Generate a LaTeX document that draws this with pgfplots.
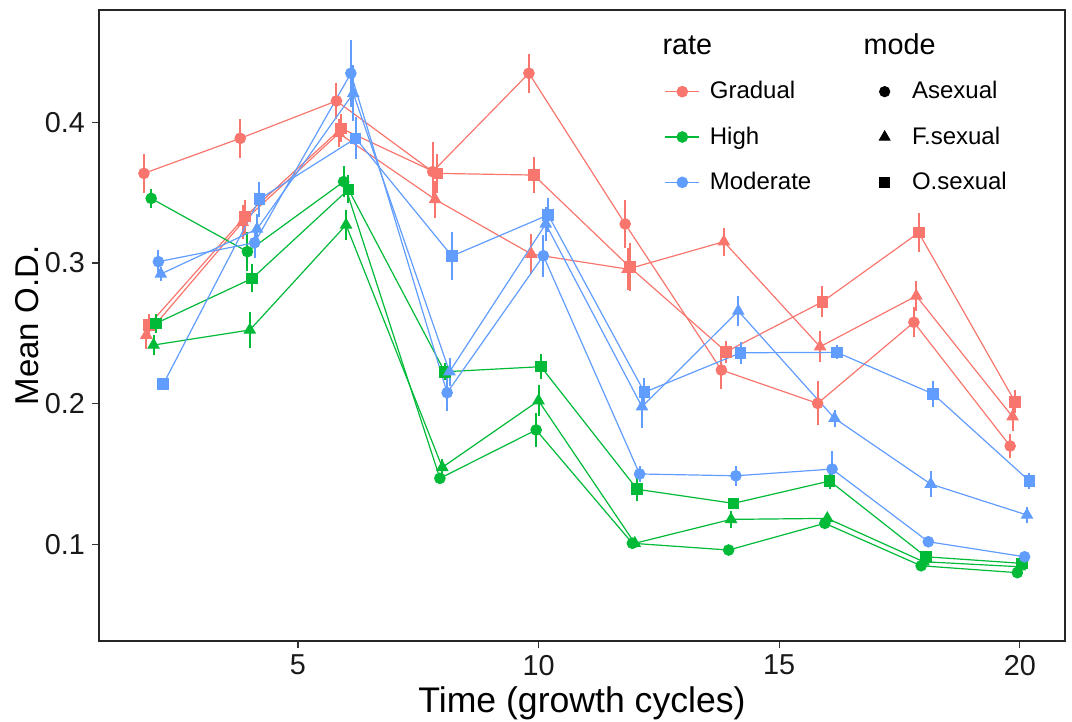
\documentclass[border=0pt]{standalone}
\usepackage{fontspec}
\setmainfont{Liberation Sans}
\usepackage{pgfplots}
\pgfplotsset{compat=1.18}
\usepackage{pgfplotstable}

\definecolor{cGrad}{HTML}{F8766D}
\definecolor{cHigh}{HTML}{00BA38}
\definecolor{cMod}{HTML}{619CFF}

% columns: dodged time, mean O.D., standard error
\pgfplotstableread{
x y e
1.8 0.3637 0.014
3.8 0.3886 0.014
5.8 0.4152 0.013
7.8 0.3649 0.021
9.8 0.4349 0.014
11.8 0.3277 0.017
13.8 0.2238 0.0135
15.8 0.2001 0.0156
17.8 0.2578 0.0107
19.8 0.1698 0.0085
}\GradAsex
\pgfplotstableread{
x y e
1.85 0.2487 0.010
3.85 0.3290 0.012
5.85 0.3922 0.010
7.85 0.3452 0.013
9.85 0.3063 0.014
11.85 0.2956 0.015
13.85 0.3151 0.010
15.85 0.2404 0.011
17.85 0.2765 0.011
19.85 0.1906 0.010
}\GradFsex
\pgfplotstableread{
x y e
1.9 0.2558 0.008
3.9 0.3329 0.012
5.9 0.3957 0.010
7.9 0.3637 0.014
9.9 0.3625 0.013
11.9 0.2969 0.017
13.9 0.2368 0.008
15.9 0.2724 0.011
17.9 0.3215 0.014
19.9 0.2013 0.008
}\GradOsex
\pgfplotstableread{
x y e
1.95 0.3459 0.007
3.95 0.3080 0.014
5.95 0.3578 0.011
7.95 0.1468 0.004
9.95 0.1812 0.012
11.95 0.1006 0.003
13.95 0.0958 0.003
15.95 0.1148 0.004
17.95 0.0846 0.003
19.95 0.0797 0.003
}\HighAsex
\pgfplotstableread{
x y e
2 0.2416 0.007
4 0.2523 0.0125
6 0.3270 0.011
8 0.1546 0.006
10 0.2020 0.011
12 0.1006 0.003
14 0.1176 0.006
16 0.1183 0.004
18 0.0875 0.003
20 0.0839 0.003
}\HighFsex
\pgfplotstableread{
x y e
2.05 0.2570 0.007
4.05 0.2890 0.010
6.05 0.3523 0.010
8.05 0.2226 0.006
10.05 0.2262 0.009
12.05 0.1390 0.008
14.05 0.1290 0.004
16.05 0.1449 0.006
18.05 0.0910 0.003
20.05 0.0863 0.003
}\HighOsex
\pgfplotstableread{
x y e
2.1 0.3009 0.008
4.1 0.3144 0.011
6.1 0.4349 0.024
8.1 0.2077 0.013
10.1 0.3051 0.015
12.1 0.1499 0.006
14.1 0.1486 0.007
16.1 0.1534 0.013
18.1 0.1017 0.003
20.1 0.0910 0.003
}\ModAsex
\pgfplotstableread{
x y e
2.15 0.2921 0.005
4.15 0.3241 0.011
6.15 0.4206 0.020
8.15 0.2226 0.010
10.15 0.3277 0.012
12.15 0.1977 0.015
14.15 0.2658 0.011
16.15 0.1895 0.006
18.15 0.1427 0.009
20.15 0.1207 0.006
}\ModFsex
\pgfplotstableread{
x y e
2.2 0.2137 0.003
4.2 0.3454 0.0125
6.2 0.3886 0.015
8.2 0.3049 0.017
10.2 0.3341 0.012
12.2 0.2080 0.010
14.2 0.2361 0.008
16.2 0.2364 0.005
18.2 0.2068 0.009
20.2 0.1449 0.006
}\ModOsex

\pgfplotsset{
  ser/.style n args={3}{color=#1, line width=0.6bp, mark=#2, mark size=#3,
    mark options={solid, fill=#1}, forget plot,
    error bars/.cd, y dir=both, y explicit,
    error bar style={line width=1bp, #1}, error mark=none},
  % shape key: a lone mark centred in a key as wide as the line keys
  shapekey/.style={legend image code/.code={
      \path (0cm,0cm) (0.6cm,0cm);
      \draw[##1] plot coordinates {(0.3cm,0cm)};}},
}

\begin{document}
\begin{tikzpicture}
\begin{axis}[
  scale only axis, width=483bp, height=315.5bp,
  xmin=0.866, xmax=20.94, ymin=0.0311, ymax=0.4799,
  xtick={5,10,15,20}, ytick={0.1,0.2,0.3,0.4},
  xtick pos=left, ytick pos=left,
  yticklabel style={/pgf/number format/.cd, fixed, precision=1, fixed zerofill},
  /pgf/number format/assume math mode=true,
  tick align=outside, major tick length=3.5bp,
  tick style={black!80, line width=0.6bp},
  minor tick num=0,
  axis line style={black!85, line width=0.7bp},
  ticklabel style={font=\fontsize{14.4bp}{17bp}\selectfont, text=black!90},
  xlabel={Time (growth cycles)}, ylabel={Mean O.D.},
  xlabel style={font=\fontsize{17.8bp}{20bp}\selectfont,
    at={(axis description cs:0.5,0)}, anchor=base, yshift=-35.5bp},
  ylabel style={font=\fontsize{16.5bp}{20bp}\selectfont,
    at={(axis description cs:0,0.5)}, anchor=center, yshift=36bp},
  legend columns=2, legend cell align=left,
  legend style={draw=none, fill=none, at={(rel axis cs:0.579,0.900)},
    anchor=north west, font=\fontsize{12bp}{14bp}\selectfont,
    row sep=8.5bp,
    /tikz/every odd column/.append style={column sep=3bp},
    /tikz/every even column/.append style={column sep=26bp}},
]
\coordinate (O) at (rel axis cs:0,0);

\addplot[ser={cGrad}{*}{2.6bp}] table[x=x, y=y, y error=e] {\GradAsex};
\addplot[ser={cGrad}{triangle*}{3.1bp}] table[x=x, y=y, y error=e] {\GradFsex};
\addplot[ser={cGrad}{square*}{2.6bp}] table[x=x, y=y, y error=e] {\GradOsex};
\addplot[ser={cHigh}{*}{2.6bp}] table[x=x, y=y, y error=e] {\HighAsex};
\addplot[ser={cHigh}{triangle*}{3.1bp}] table[x=x, y=y, y error=e] {\HighFsex};
\addplot[ser={cHigh}{square*}{2.6bp}] table[x=x, y=y, y error=e] {\HighOsex};
\addplot[ser={cMod}{*}{2.6bp}] table[x=x, y=y, y error=e] {\ModAsex};
\addplot[ser={cMod}{triangle*}{3.1bp}] table[x=x, y=y, y error=e] {\ModFsex};
\addplot[ser={cMod}{square*}{2.6bp}] table[x=x, y=y, y error=e] {\ModOsex};

% legend: colour keys (rate) beside shape keys (mode)
\addlegendimage{cGrad, line width=0.6bp, mark=*, mark size=2.6bp}
\addlegendentry{Gradual}
\addlegendimage{shapekey, black, mark=*, mark size=2.6bp}
\addlegendentry{Asexual}
\addlegendimage{cHigh, line width=0.6bp, mark=*, mark size=2.6bp}
\addlegendentry{High}
\addlegendimage{shapekey, black, mark=triangle*, mark size=3.1bp}
\addlegendentry{F.sexual}
\addlegendimage{cMod, line width=0.6bp, mark=*, mark size=2.6bp}
\addlegendentry{Moderate}
\addlegendimage{shapekey, black, mark=square*, mark size=2.6bp}
\addlegendentry{O.sexual}

\node[anchor=base west, inner sep=0pt, font=\fontsize{14.4bp}{17bp}\selectfont]
  at (rel axis cs:0.583,0.929) {rate};
\node[anchor=base west, inner sep=0pt, font=\fontsize{14.4bp}{17bp}\selectfont]
  at (rel axis cs:0.791,0.929) {mode};
\end{axis}
\pgfresetboundingbox
\path[use as bounding box] (O) ++(-49.5bp,-40.5bp) rectangle ++(536bp,361bp);
\end{tikzpicture}
\end{document}
